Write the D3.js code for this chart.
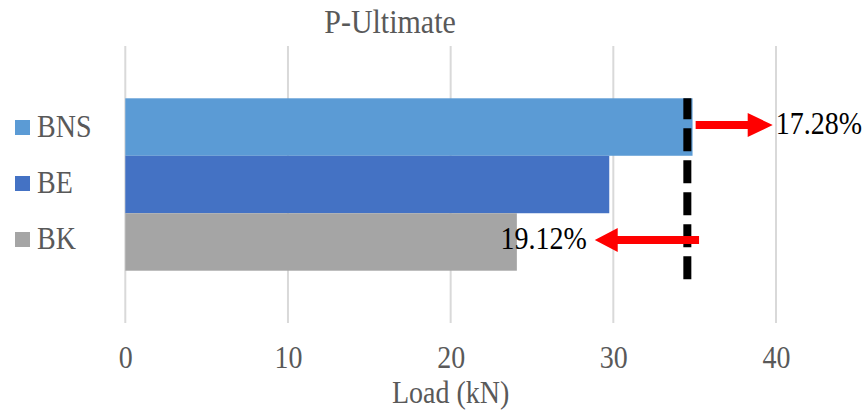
<!DOCTYPE html>
<html>
<head>
<meta charset="utf-8">
<script src="https://cdn.jsdelivr.net/npm/d3@7"></script>
<style>
  html, body { margin: 0; padding: 0; background: #fff; }
  svg { display: block; }
</style>
</head>
<body>
<svg id="chart" width="867" height="412"></svg>
<script>
// ---- data ----
const categories = ["BNS", "BE", "BK"];
const loads = [34.87, 29.75, 24.07];
const colors = ["#5B9BD5", "#4472C4", "#A5A5A5"];
const xTicks = [0, 10, 20, 30, 40];
const refLoad = 34.55;            // dashed reference line (BNS level)
const pctLabels = ["17.28%", "19.12%"];
const arrowUp = { cat: "BNS", from: 35.06, base: 38.26, tip: 39.8 };
const arrowDown = { cat: "BK", from: 35.27, base: 30.27, tip: 28.86 };
const titleText = "P-Ultimate";
const xTitle = "Load (kN)";

// ---- layout ----
const FONT = '"Liberation Serif"';
const SY = 1.1; // vertical stretch of the reference text
const svg = d3.select("#chart");
const plot = { left: 125.3, right: 776, top: 46, bottom: 323 };
const x = d3.scaleLinear().domain([0, 40]).range([plot.left, plot.right]);
const y = d3.scaleBand().domain(categories).range([plot.top, plot.bottom])
  .paddingInner(0).paddingOuter(0.91);
const textGray = "#595959";

// gridlines
svg.append("g").selectAll("line").data(xTicks).join("line")
  .attr("x1", d => x(d)).attr("x2", d => x(d))
  .attr("y1", plot.top).attr("y2", plot.bottom)
  .attr("stroke", "#D9D9D9").attr("stroke-width", 2);

// axis labels
const axis = d3.axisBottom(x).tickValues(xTicks).tickSize(0).tickPadding(0);
const ag = svg.append("g").attr("transform", `translate(0,${plot.bottom})`).call(axis);
ag.attr("font-family", null).attr("font-size", null);
ag.select(".domain").remove();
ag.selectAll("text").style("font-family", FONT).style("font-size", "28px")
  .attr("fill", textGray).attr("dy", null).attr("y", 0)
  .attr("transform", `translate(0,45) scale(1,${SY})`);

// bars
svg.append("g").selectAll("rect").data(categories).join("rect")
  .attr("x", x(0)).attr("y", d => y(d))
  .attr("width", (d, i) => x(loads[i]) - x(0))
  .attr("height", y.bandwidth())
  .attr("fill", (d, i) => colors[i]);

// dashed reference line
svg.append("line")
  .attr("x1", x(refLoad)).attr("x2", x(refLoad))
  .attr("y1", y("BNS")).attr("y2", y("BK") + y.bandwidth() + 9)
  .attr("stroke", "#000").attr("stroke-width", 8)
  .attr("stroke-dasharray", "23,9").attr("stroke-dashoffset", 2);

// arrows
function arrowPath(a) {
  const cy = y(a.cat) + y.bandwidth() / 2 - 2;
  const sh = 4, hh = 12;
  return `M${x(a.from)},${cy - sh}L${x(a.base)},${cy - sh}L${x(a.base)},${cy - hh}` +
    `L${x(a.tip)},${cy}L${x(a.base)},${cy + hh}L${x(a.base)},${cy + sh}L${x(a.from)},${cy + sh}Z`;
}
svg.append("path").attr("d", arrowPath(arrowUp)).attr("fill", "#FF0000");
svg.append("path").attr("d", arrowPath(arrowDown)).attr("fill", "#FF0000");

function txt(parent, size, px, py) {
  return parent.append("text")
    .style("font-family", FONT).style("font-size", size + "px")
    .attr("transform", (typeof px === "function")
      ? ((d, i) => `translate(${px(d, i)},${py(d, i)}) scale(1,${SY})`)
      : `translate(${px},${py}) scale(1,${SY})`);
}

// percentage labels
txt(svg, 28, x(arrowUp.tip) + 3, y("BNS") + 36)
  .attr("fill", "#000").text(pctLabels[0]);
txt(svg, 28, x(arrowDown.tip) - 8, y("BK") + 36)
  .attr("text-anchor", "end").attr("fill", "#000").text(pctLabels[1]);

// legend
const lg = svg.append("g").selectAll("g").data(categories).join("g")
  .attr("transform", (d, i) => `translate(15,${120 + i * 56})`);
lg.append("rect").attr("width", 15).attr("height", 15).attr("fill", (d, i) => colors[i]);
txt(lg, 28, 22, 17).attr("fill", textGray).text(d => d);

// title
txt(svg, 30, 390, 33).attr("text-anchor", "middle")
  .attr("fill", textGray).text(titleText);

// x-axis title
txt(svg, 28, x(20), 403).attr("text-anchor", "middle")
  .attr("fill", textGray).text(xTitle);
</script>
</body>
</html>
